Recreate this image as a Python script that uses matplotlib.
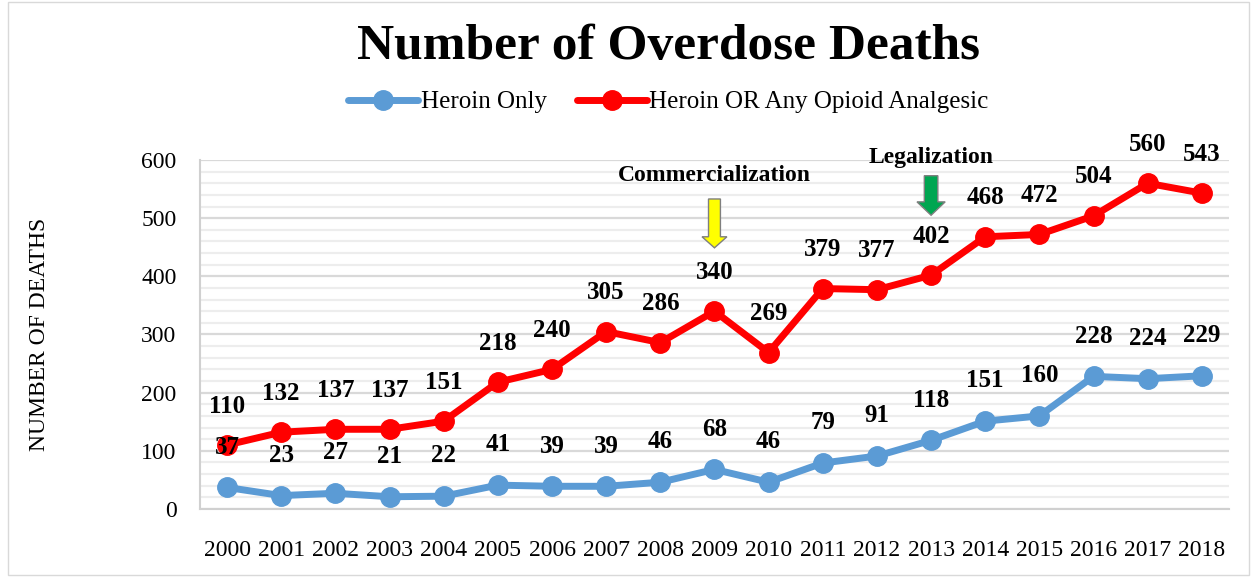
import matplotlib
matplotlib.use("Agg")
import matplotlib.pyplot as plt
from matplotlib.patches import Rectangle, FancyArrow
from matplotlib.ticker import MultipleLocator

plt.rcParams['font.family'] = ['Liberation Serif', 'DejaVu Serif']

years = [str(y) for y in range(2000, 2019)]
heroin_only = [37, 23, 27, 21, 22, 41, 39, 39, 46, 68, 46, 79, 91, 118, 151, 160, 228, 224, 229]
heroin_or_opioid = [110, 132, 137, 137, 151, 218, 240, 305, 286, 340, 269, 379, 377, 402, 468, 472, 504, 560, 543]

blue = '#5B9BD5'
red = '#FF0000'

fig = plt.figure(figsize=(12.54, 5.77), dpi=100)
ax = fig.add_axes([0.1595, 0.1179, 0.8205, 0.6048])

x = range(len(years))
ax.plot(x, heroin_only, color=blue, lw=5, marker='o', ms=14, label='Heroin Only',
        solid_capstyle='round', zorder=3)
ax.plot(x, heroin_or_opioid, color=red, lw=5, marker='o', ms=14,
        label='Heroin OR Any Opioid Analgesic', solid_capstyle='round', zorder=3)

# data labels
for i in x:
    ax.annotate(str(heroin_only[i]), (i, heroin_only[i]), xytext=(0, 29),
                textcoords='offset points', ha='center', va='center',
                fontsize=18, fontweight='bold')
    ax.annotate(str(heroin_or_opioid[i]), (i, heroin_or_opioid[i]), xytext=(0, 28),
                textcoords='offset points', ha='center', va='center',
                fontsize=18, fontweight='bold', annotation_clip=False)

ax.set_xlim(-0.5, len(years) - 0.5)
ax.set_ylim(0, 600)
ax.set_xticks(list(x))
ax.set_xticklabels(years)
ax.yaxis.set_major_locator(MultipleLocator(100))
ax.yaxis.set_minor_locator(MultipleLocator(20))
ax.tick_params(axis='both', which='both', length=0, labelsize=17)
ax.tick_params(axis='x', pad=22)
ax.tick_params(axis='y', pad=17)
ax.grid(axis='y', which='minor', color='#EDEDED', lw=1.6, zorder=0)
ax.grid(axis='y', which='major', color='#D9D9D9', lw=1.6, zorder=0)
ax.set_axisbelow(True)
for s in ['top', 'right']:
    ax.spines[s].set_visible(False)
for s in ['left', 'bottom']:
    ax.spines[s].set_color('#D0D0D0')
    ax.spines[s].set_linewidth(1.5)

ax.set_ylabel('NUMBER OF DEATHS', fontsize=17)
ax.yaxis.set_label_coords(-0.146, 0.5)

# event arrows
ax.add_patch(FancyArrow(9, 533, 0, -84, width=0.22, head_width=0.46, head_length=19,
                        length_includes_head=True, fc='#FFFF00', ec='#7F7F7F', lw=1,
                        zorder=4, clip_on=False))
ax.text(9, 574, 'Commercialization', ha='center', va='center', fontsize=17,
        fontweight='bold', clip_on=False)
ax.add_patch(FancyArrow(13, 573, 0, -68, width=0.25, head_width=0.52, head_length=23,
                        length_includes_head=True, fc='#00A651', ec='#7F7F7F', lw=1,
                        zorder=4, clip_on=False))
ax.text(13, 605, 'Legalization', ha='center', va='center', fontsize=17,
        fontweight='bold', clip_on=False)

fig.text(0.533, 0.918, 'Number of Overdose Deaths', ha='center', va='center',
         fontsize=37, fontweight='bold')
fig.legend(loc='center', bbox_to_anchor=(0.533, 0.823), ncol=2, frameon=False,
           fontsize=18, handlelength=2.8, handletextpad=0.1, columnspacing=1.2)

fig.patches.append(Rectangle((0.006, 0.004), 0.99, 0.992, transform=fig.transFigure,
                             fill=False, ec='#D9D9D9', lw=1))

fig.savefig('out.png', dpi=100)
